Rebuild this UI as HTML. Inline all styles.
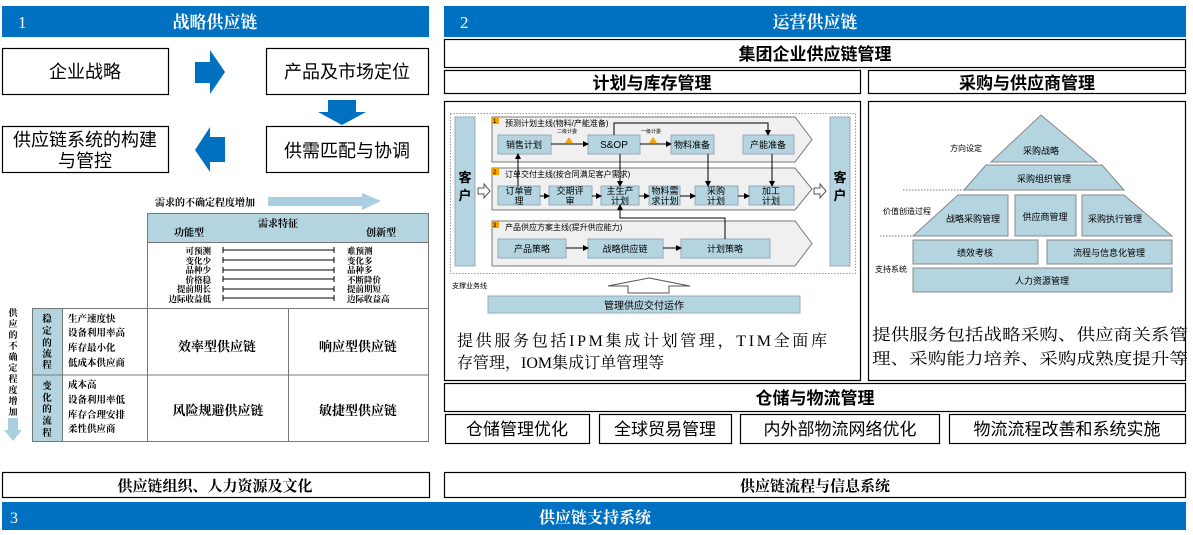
<!DOCTYPE html>
<html><head><meta charset="utf-8"><style>
html,body{margin:0;padding:0;background:#fff;}
svg{display:block;}
.s{font-family:"Liberation Sans","Noto Sans CJK SC",sans-serif;}
.r{font-family:"Liberation Serif","Noto Serif CJK SC",serif;}
</style></head><body>
<svg width="1193" height="535" viewBox="0 0 1193 535" xmlns="http://www.w3.org/2000/svg">
<defs>
<marker id="ah" markerWidth="6" markerHeight="6" refX="5" refY="3" orient="auto" markerUnits="userSpaceOnUse"><path d="M0,0 L6,3 L0,6 z" fill="#000"/></marker>
</defs>
<rect x="2" y="6" width="427" height="31" fill="#0070C0"/>
<text x="18" y="28" fill="#fff" class="r" font-size="17">1</text>
<text x="215" y="28" fill="#fff" class="r" font-size="17" font-weight="bold" text-anchor="middle">战略供应链</text>
<rect x="444" y="6" width="742" height="31" fill="#0070C0"/>
<text x="460" y="28" fill="#fff" class="r" font-size="17">2</text>
<text x="815" y="28" fill="#fff" class="r" font-size="17" font-weight="bold" text-anchor="middle">运营供应链</text>

<g fill="#fff" stroke="#000" stroke-width="1.2">
<rect x="2.5" y="48.5" width="166" height="46"/>
<rect x="266.5" y="48.5" width="162" height="46"/>
<rect x="2.5" y="126.5" width="166" height="46"/>
<rect x="266.5" y="126.5" width="162" height="46"/>
</g>
<g class="s" font-size="18" text-anchor="middle" fill="#000">
<text x="85" y="78">企业战略</text>
<text x="347" y="78">产品及市场定位</text>
<text x="85" y="146">供应链系统的构建</text>
<text x="85" y="167">与管控</text>
<text x="347" y="157">供需匹配与协调</text>
</g>
<polygon points="195,62 210,62 210,50 225,72 210,94 210,83 195,83" fill="#0070C0"/>
<polygon points="225,137 210,137 210,127 195,150 210,172 210,162 225,162" fill="#0070C0"/>
<polygon points="328,100 356,100 356,112 366,112 342,125 318,112 328,112" fill="#0070C0"/>

<text x="155" y="206" class="r" font-size="10" font-weight="bold">需求的不确定程度增加</text>
<polygon points="268,197 362,197 362,193 381,201 362,210 362,206 268,206" fill="#a9cfe0"/>
<rect x="147.5" y="213.5" width="281" height="29" fill="#b4d4e0" stroke="#777"/>
<rect x="147.5" y="242.5" width="281" height="66" fill="#fff" stroke="#777"/>
<g class="r" font-size="10" font-weight="bold">
<text x="174" y="236">功能型</text>
<text x="258" y="227">需求特征</text>
<text x="366" y="236">创新型</text>
</g>
<g class="r" font-size="8.5" font-weight="bold">
<text x="211" y="254" text-anchor="end">可预测</text>
<text x="211" y="264" text-anchor="end">变化少</text>
<text x="211" y="273" text-anchor="end">品种少</text>
<text x="211" y="283" text-anchor="end">价格稳</text>
<text x="211" y="292" text-anchor="end">提前期长</text>
<text x="211" y="302" text-anchor="end">边际收益低</text>
<text x="347" y="254">难预测</text>
<text x="347" y="264">变化多</text>
<text x="347" y="273">品种多</text>
<text x="347" y="283">不断降价</text>
<text x="347" y="292">提前期短</text>
<text x="347" y="302">边际收益高</text>
</g>
<g stroke="#000" stroke-width="1">
<path d="M223,250H334M223,260H334M223,270H334M223,279H334M223,289H334M223,298H334"/>
<path d="M223,247v6M334,247v6M223,257v6M334,257v6M223,267v6M334,267v6M223,276v6M334,276v6M223,286v6M334,286v6M223,295v6M334,295v6"/>
</g>
<rect x="32.5" y="308.5" width="30" height="133" fill="#b4d4e0" stroke="#777"/>
<rect x="62.5" y="308.5" width="85" height="133" fill="#fff" stroke="#777"/>
<line x1="32" y1="375" x2="147" y2="375" stroke="#777"/>
<rect x="147.5" y="308.5" width="281" height="133" fill="#fff" stroke="#777"/>
<line x1="147" y1="375" x2="428" y2="375" stroke="#777"/>
<line x1="288.5" y1="308" x2="288.5" y2="441" stroke="#777"/>
<g class="r" font-size="9.5" font-weight="bold" text-anchor="middle">
<text x="47" y="322">稳</text><text x="47" y="334">定</text><text x="47" y="346">的</text><text x="47" y="357">流</text><text x="47" y="368">程</text>
<text x="47" y="389">变</text><text x="47" y="401">化</text><text x="47" y="412">的</text><text x="47" y="424">流</text><text x="47" y="436">程</text>
</g>
<g class="r" font-size="9.5" font-weight="bold">
<text x="68" y="322">生产速度快</text>
<text x="68" y="336">设备利用率高</text>
<text x="68" y="351">库存最小化</text>
<text x="68" y="366">低成本供应商</text>
<text x="68" y="388">成本高</text>
<text x="68" y="403">设备利用率低</text>
<text x="68" y="418">库存合理安排</text>
<text x="68" y="432">柔性供应商</text>
</g>
<g class="r" font-size="13" font-weight="bold" text-anchor="middle">
<text x="217" y="351">效率型供应链</text>
<text x="358" y="351">响应型供应链</text>
<text x="218" y="415">风险规避供应链</text>
<text x="358" y="415">敏捷型供应链</text>
</g>
<g class="r" font-size="9" font-weight="bold" text-anchor="middle">
<text x="13" y="316">供</text><text x="13" y="327">应</text><text x="13" y="338">的</text><text x="13" y="349">不</text><text x="13" y="360">确</text><text x="13" y="371">定</text><text x="13" y="382">程</text><text x="13" y="393">度</text><text x="13" y="404">增</text><text x="13" y="415">加</text>
</g>
<polygon points="8,418 18,418 18,430 22,430 13,441 4,430 8,430" fill="#a9cfe0"/>

<g fill="#fff" stroke="#000" stroke-width="1.2">
<rect x="444.5" y="39.5" width="741" height="28"/>
<rect x="444.5" y="70.5" width="416" height="23"/>
<rect x="868.5" y="70.5" width="317" height="23"/>
<rect x="444.5" y="101.5" width="416" height="279"/>
<rect x="868.5" y="101.5" width="317" height="279"/>
<rect x="444.5" y="383.5" width="741" height="28"/>
<rect x="445.5" y="414.5" width="144" height="29"/>
<rect x="599.5" y="414.5" width="132" height="29"/>
<rect x="740.5" y="414.5" width="199" height="29"/>
<rect x="949.5" y="414.5" width="236" height="29"/>
<rect x="2.5" y="472.5" width="427" height="25"/>
<rect x="444.5" y="472.5" width="741" height="25"/>
</g>
<g class="s" font-size="17" font-weight="bold" text-anchor="middle">
<text x="815" y="60">集团企业供应链管理</text>
<text x="652" y="89">计划与库存管理</text>
<text x="1027" y="89">采购与供应商管理</text>
<text x="815" y="404">仓储与物流管理</text>
</g>
<g class="s" font-size="17" text-anchor="middle">
<text x="517" y="435">仓储管理优化</text>
<text x="665" y="435">全球贸易管理</text>
<text x="840" y="435">内外部物流网络优化</text>
<text x="1067" y="435">物流流程改善和系统实施</text>
</g>
<g class="r" font-size="15" font-weight="bold" text-anchor="middle">
<text x="215" y="491">供应链组织、人力资源及文化</text>
<text x="815" y="491">供应链流程与信息系统</text>
</g>
<rect x="2" y="502" width="1184" height="28" fill="#0070C0"/>
<text x="10" y="523" fill="#fff" class="r" font-size="16">3</text>
<text x="595" y="523" fill="#fff" class="r" font-size="16" font-weight="bold" text-anchor="middle">供应链支持系统</text>

<g class="r" font-size="16">
<text x="457" y="346" textLength="370">提供服务包括IPM集成计划管理，TIM全面库</text>
<text x="457" y="368">存管理，IOM集成订单管理等</text>
<text x="872" y="340" textLength="316" lengthAdjust="spacingAndGlyphs">提供服务包括战略采购、供应商关系管</text>
<text x="872" y="364" textLength="316" lengthAdjust="spacingAndGlyphs">理、采购能力培养、采购成熟度提升等</text>
</g>

<rect x="450.5" y="113.5" width="405" height="160" fill="none" stroke="#999" stroke-dasharray="1.5,1.5"/>
<rect x="455" y="117" width="20" height="149" fill="#b4d4e0" stroke="#9ab"/>
<rect x="830" y="117" width="20" height="149" fill="#b4d4e0" stroke="#9ab"/>
<g class="s" font-size="13" font-weight="bold" text-anchor="middle">
<text x="465" y="182">客</text><text x="465" y="200">户</text>
<text x="840" y="182">客</text><text x="840" y="200">户</text>
</g>
<polygon points="478,188 484,188 484,184 490,191 484,198 484,194 478,194" fill="#fff" stroke="#555"/>
<polygon points="814,188 820,188 820,184 826,191 820,198 820,194 814,194" fill="#fff" stroke="#555"/>
<g fill="#f0f0f0" stroke="#777">
<polygon points="492,117 795,117 812,139.5 795,162 492,162"/>
<polygon points="492,168 795,168 812,189 795,210 492,210"/>
<polygon points="492,221 795,221 812,243.5 795,266 492,266"/>
</g>
<g fill="#f5a300">
<rect x="492" y="117" width="7" height="7"/><rect x="492" y="168" width="7" height="7"/><rect x="492" y="221" width="7" height="7"/>
<rect x="488" y="296" width="8" height="8"/>
</g>
<g font-size="6" class="s" fill="#000"><text x="493" y="123">1</text><text x="493" y="174">2</text><text x="493" y="227">3</text><text x="490" y="303">4</text></g>
<g class="s" font-size="8" fill="#000">
<text x="505" y="126">预测计划主线(物料/产能准备)</text>
<text x="505" y="177">订单交付主线(按合同满足客户需求)</text>
<text x="505" y="230">产品供应方案主线(提升供应能力)</text>
<text x="452" y="288" font-size="7">支撑业务线</text>
<text x="557" y="133" font-size="5">二级计委</text>
<text x="641" y="133" font-size="5">一级计委</text>
</g>
<g fill="#b4d4e0" stroke="#9ab">
<rect x="498" y="135" width="53" height="19"/><rect x="588" y="135" width="52" height="19"/><rect x="671" y="135" width="43" height="19"/><rect x="743" y="135" width="51" height="19"/>
<rect x="498" y="186" width="42" height="19"/><rect x="549" y="186" width="43" height="19"/><rect x="601" y="186" width="38" height="19"/><rect x="649" y="186" width="31" height="19"/><rect x="695" y="186" width="43" height="19"/><rect x="749" y="186" width="45" height="19"/>
<rect x="498" y="239" width="68" height="19"/><rect x="588" y="239" width="75" height="19"/><rect x="681" y="239" width="89" height="19"/>
<rect x="488" y="296" width="312" height="17"/>
</g>
<g class="s" font-size="9" text-anchor="middle" fill="#000">
<text x="524" y="148">销售计划</text>
<text x="614" y="148" font-size="10">S&amp;OP</text>
<text x="692" y="148">物料准备</text>
<text x="768" y="148">产能准备</text>
<text x="519" y="194">订单管</text><text x="519" y="204">理</text>
<text x="570" y="194">交期评</text><text x="570" y="204">审</text>
<text x="620" y="194">主生产</text><text x="620" y="204">计划</text>
<text x="665" y="194">物料需</text><text x="665" y="204">求计划</text>
<text x="716" y="194">采购</text><text x="716" y="204">计划</text>
<text x="771" y="194">加工</text><text x="771" y="204">计划</text>
<text x="532" y="252">产品策略</text>
<text x="625" y="252">战略供应链</text>
<text x="725" y="252">计划策略</text>
<text x="644" y="309" font-size="10">管理供应交付运作</text>
</g>
<g fill="#f5a300"><polygon points="569,137 573,143 565,143"/><polygon points="653,137 657,143 649,143"/></g>
<g stroke="#000" stroke-width="1" fill="none" marker-end="url(#ah)">
<path d="M551,144H588"/><path d="M640,144H671"/>
<path d="M614,135V123H768V135"/>
<path d="M708,154V186"/><path d="M772,154V186"/><path d="M620,154V186"/>
<path d="M518,186V154"/>
<path d="M540,196H549"/><path d="M592,196H601"/><path d="M639,196H649"/><path d="M680,196H695"/><path d="M738,196H749"/>
<path d="M725,239V218H620V205"/>
<path d="M566,248H588"/><path d="M663,248H681"/>
</g>
<polygon points="649,278 690,286 669,286 669,293 628,293 628,286 608,286" fill="#fff" stroke="#555"/>

<g fill="#b4d4e0" stroke="#888">
<polygon points="1041,115 1097,162 991,162"/>
<polygon points="986,165 1102,165 1124,190 964,190"/>
<polygon points="958,195 1008,195 1008,236 913,236"/>
<rect x="1015" y="195" width="61" height="41"/>
<polygon points="1082,195 1124,195 1172,236 1082,236"/>
<rect x="913" y="240" width="125" height="24"/>
<rect x="1047" y="240" width="125" height="24"/>
<rect x="913" y="268" width="259" height="24"/>
</g>
<g stroke="#777" stroke-dasharray="1.5,1.5"><path d="M903,190H964M880,236H913"/></g>
<g class="s" font-size="9" text-anchor="middle" fill="#000">
<text x="1041" y="154">采购战略</text>
<text x="1044" y="182">采购组织管理</text>
<text x="973" y="222">战略采购管理</text>
<text x="1045" y="220">供应商管理</text>
<text x="1115" y="222">采购执行管理</text>
<text x="975" y="256">绩效考核</text>
<text x="1109" y="256">流程与信息化管理</text>
<text x="1042" y="284">人力资源管理</text>
</g>
<g class="s" font-size="8" fill="#000">
<text x="950" y="151">方向设定</text>
<text x="883" y="214">价值创造过程</text>
<text x="875" y="272">支持系统</text>
</g>
</svg>
</body></html>
